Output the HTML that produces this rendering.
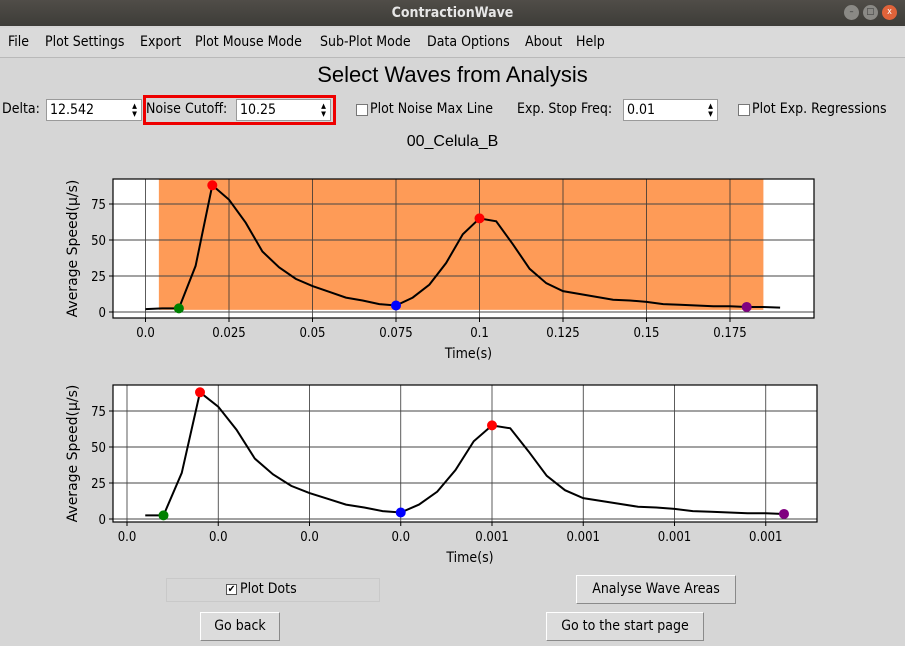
<!DOCTYPE html>
<html><head><meta charset="utf-8"><style>
*{box-sizing:border-box}
body{margin:0;width:905px;height:646px;background:#d6d6d6;font-family:"DejaVu Sans Condensed","Liberation Sans",sans-serif;font-size:14px;color:#000;position:relative;overflow:hidden}
.abs{position:absolute}
.titlebar{left:0;top:0;width:905px;height:26px;background:linear-gradient(#504d48,#3d3c38);color:#e6e6e6;font-weight:bold;text-align:center;line-height:26px;font-size:14px}
.wb{top:5px;width:15px;height:15px;border-radius:50%;background:#8a8985;color:#333;font-size:9px;text-align:center;line-height:15px}
.menubar{left:0;top:28px;width:905px;height:30px;background:#dadada;border-bottom:1px solid #b9b9b9}
.menubar span{position:absolute;top:6px}
.input{background:#fff;border:1px solid #9a9a9a;height:22px;top:99px;padding-left:3px;line-height:20px}
.spin{position:absolute;right:2px;top:2px;width:9px;height:16px;font-size:7px;line-height:8px;text-align:center}
.cb{width:12px;height:12px;border:1px solid #777;background:#fff;top:104px}
.btn{background:#dcdcdc;border:1px solid #fff;border-right-color:#8a8a8a;border-bottom-color:#8a8a8a;text-align:center;line-height:26px}
</style></head><body>
<div class="abs titlebar">ContractionWave</div>
<div class="abs wb" style="left:844px">–</div>
<div class="abs wb" style="left:863px">□</div>
<div class="abs wb" style="left:882px;background:#e0633a;color:#fff">x</div>
<div class="abs menubar">
<span style="left:8px">File</span>
<span style="left:45px">Plot Settings</span>
<span style="left:140px">Export</span>
<span style="left:195px">Plot Mouse Mode</span>
<span style="left:320px">Sub-Plot Mode</span>
<span style="left:427px">Data Options</span>
<span style="left:525px">About</span>
<span style="left:576px">Help</span>
</div>
<div class="abs" style="left:0;width:905px;top:62px;text-align:center;font-family:'Liberation Sans',sans-serif;font-size:22px">Select Waves from Analysis</div>
<div class="abs" style="left:2px;top:101px">Delta:</div>
<div class="abs input" style="left:46px;width:96px">12.542<div class="spin">▲<br>▼</div></div>
<div class="abs" style="left:143px;top:95px;width:193px;height:30px;border:3px solid #e00"></div>
<div class="abs" style="left:146px;top:101px">Noise Cutoff:</div>
<div class="abs input" style="left:236px;width:95px">10.25<div class="spin">▲<br>▼</div></div>
<div class="abs cb" style="left:356px"></div>
<div class="abs" style="left:370px;top:101px">Plot Noise Max Line</div>
<div class="abs" style="left:517px;top:101px">Exp. Stop Freq:</div>
<div class="abs input" style="left:623px;width:95px">0.01<div class="spin">▲<br>▼</div></div>
<div class="abs cb" style="left:738px"></div>
<div class="abs" style="left:752px;top:101px">Plot Exp. Regressions</div>
<div class="abs" style="left:0;width:905px;top:133px;text-align:center;font-family:'Liberation Sans',sans-serif;font-size:16px">00_Celula_B</div>
<svg class="abs" id="chart" style="left:0;top:0" width="905" height="646"></svg>
<div class="abs" style="left:166px;top:578px;width:214px;height:24px;border:1px solid #c9c9c9"></div>
<div class="abs" style="left:226px;top:584px;width:11px;height:11px;background:#fff;border:1px solid #555;font-size:10px;line-height:9px;text-align:center">✔</div>
<div class="abs" style="left:240px;top:581px">Plot Dots</div>
<div class="abs btn" style="left:576px;top:575px;width:160px;height:29px">Analyse Wave Areas</div>
<div class="abs btn" style="left:200px;top:612px;width:80px;height:29px">Go back</div>
<div class="abs btn" style="left:546px;top:612px;width:158px;height:29px">Go to the start page</div>
<script>
const times=[0,0.005,0.01,0.015,0.02,0.025,0.03,0.035,0.04,0.045,0.05,0.055,0.06,0.065,0.07,0.075,0.08,0.085,0.09,0.095,0.1,0.105,0.11,0.115,0.12,0.125,0.13,0.135,0.14,0.145,0.15,0.155,0.16,0.165,0.17,0.175,0.18,0.185,0.19];
const speeds=[2,2.5,2.5,32,88,78,62,42,31,23,18,14,10,8,5.5,4.5,10,19,34,54,65,63,47,30,20,14.5,12.5,10.5,8.5,8,7,5.5,5,4.5,4,4,3.5,3.5,3];
const markerTimes=[0.01,0.02,0.075,0.1,0.18];
const markerSpeeds=[2.5,88,4.5,65,3.5];
const markerColors=['green','red','blue','red','purple'];
const xTicks=[0,0.025,0.05,0.075,0.1,0.125,0.15,0.175];
const xTickLabelsTop=['0.0','0.025','0.05','0.075','0.1','0.125','0.15','0.175'];
const xTickLabelsBottom=['0.0','0.0','0.0','0.0','0.001','0.001','0.001','0.001'];
const yTicks=[0,25,50,75];
const spanRange=[0.004,0.185];
const spanBottom=1.5;
const bottomRange=[0.005,0.18];
const NS='http://www.w3.org/2000/svg';
const svg=document.getElementById('chart');
function mk(tag,attrs,parent){const e=document.createElementNS(NS,tag);for(const k in attrs)e.setAttribute(k,attrs[k]);(parent||svg).appendChild(e);return e;}
function drawPlot(cfg){
  const g=mk('g',{});
  
  
  const X=t=>cfg.x0+t*cfg.xs, Y=v=>cfg.y0-v*cfg.ys;
  mk('rect',{x:cfg.L,y:cfg.T,width:cfg.R-cfg.L,height:cfg.B-cfg.T,fill:'#fff'},g);
  if(cfg.span){const s=mk('rect',{x:X(spanRange[0]),y:cfg.T,width:X(spanRange[1])-X(spanRange[0]),height:Y(spanBottom)-cfg.T,fill:'#fe9b57'},g);
    
    }
  xTicks.forEach((t,i)=>{const x=X(t);
    mk('line',{x1:x,x2:x,y1:cfg.T,y2:cfg.B,stroke:'#333','stroke-width':0.8},g);
    mk('line',{x1:x,x2:x,y1:cfg.B,y2:cfg.B+4,stroke:'#000'},g);
    const tx=mk('text',{x:x,y:cfg.B+19,'text-anchor':'middle','font-size':13,'font-family':'DejaVu Sans Condensed,Liberation Sans,sans-serif'},g);
    tx.textContent=cfg.labels[i];
    
    });
  yTicks.forEach(v=>{const y=Y(v);
    mk('line',{x1:cfg.L,x2:cfg.R,y1:y,y2:y,stroke:'#444','stroke-width':1},g);
    mk('line',{x1:cfg.L-4,x2:cfg.L,y1:y,y2:y,stroke:'#000'},g);
    const tx=mk('text',{x:cfg.L-7,y:y+5,'text-anchor':'end','font-size':13,'font-family':'DejaVu Sans Condensed,Liberation Sans,sans-serif'},g);
    tx.textContent=v;
    
    });
  const pts=[];
  times.forEach((t,i)=>{if(t>=cfg.tMin-1e-9&&t<=cfg.tMax+1e-9)pts.push(X(t)+','+Y(speeds[i]));});
  const pl=mk('polyline',{points:pts.join(' '),fill:'none',stroke:'#000','stroke-width':2},g);
  
  
  markerTimes.forEach((t,i)=>{const c=mk('circle',{cx:X(t),cy:Y(markerSpeeds[i]),r:5,fill:markerColors[i]},g);
    
    });
  mk('rect',{x:cfg.L,y:cfg.T,width:cfg.R-cfg.L,height:cfg.B-cfg.T,fill:'none',stroke:'#000','stroke-width':1.2},g);
  const xl=mk('text',{x:(cfg.L+cfg.R)/2+5,y:cfg.B+40,'text-anchor':'middle','font-size':14,'font-family':'DejaVu Sans Condensed,Liberation Sans,sans-serif'},g);
  xl.textContent='Time(s)';
  
  
  const cy=(cfg.T+cfg.B)/2;
  const yl=mk('text',{x:77,y:cy,'text-anchor':'middle','font-size':14,'font-family':'DejaVu Sans,Liberation Sans,sans-serif',transform:'rotate(-90 77 '+cy+')'},g);
  yl.textContent='Average Speed(μ/s)';
  
  
}
drawPlot({name:'top-plot',L:113,R:814,T:179,B:318,x0:145.5,xs:3340,y0:312,ys:1.44,span:true,labels:xTickLabelsTop,tMin:times[0],tMax:times[times.length-1]});
drawPlot({name:'bottom-plot',L:113,R:817,T:385,B:522,x0:127,xs:3650,y0:519,ys:1.44,span:false,labels:xTickLabelsBottom,tMin:bottomRange[0],tMax:bottomRange[1]});
</script>
</body></html>
